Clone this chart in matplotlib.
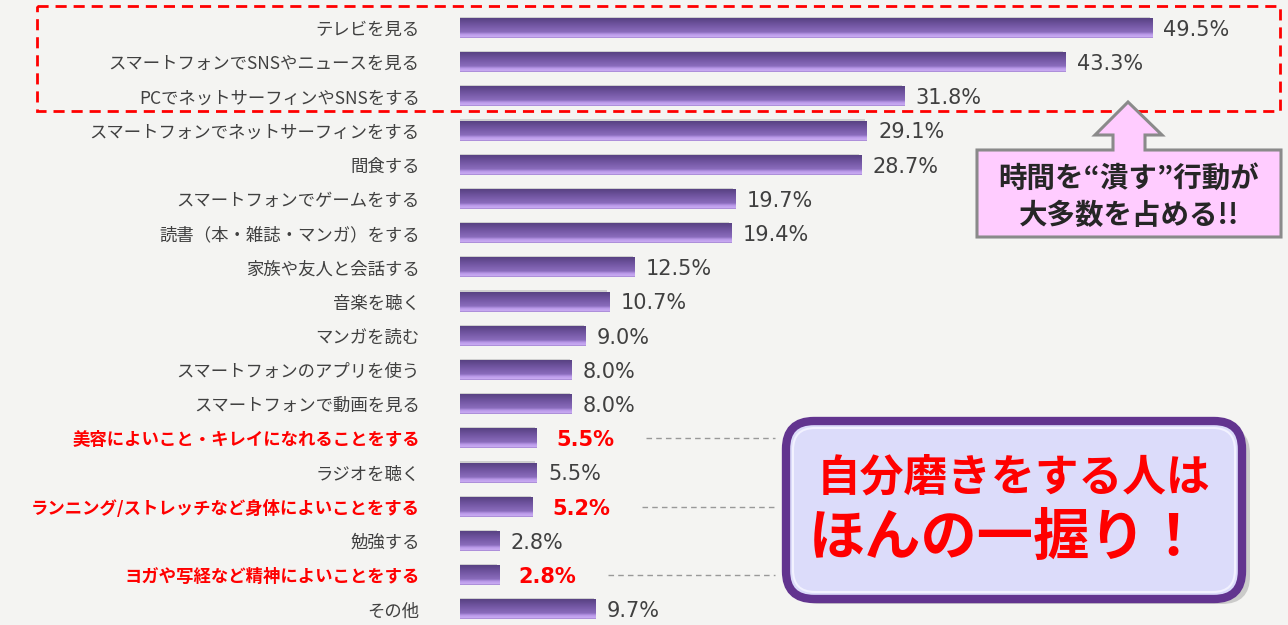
import matplotlib
matplotlib.use("Agg")
import matplotlib.pyplot as plt
import numpy as np
from matplotlib.colors import LinearSegmentedColormap
from matplotlib.patches import Rectangle, Polygon, FancyBboxPatch

plt.rcParams['font.family'] = ['Noto Sans CJK JP', 'DejaVu Sans']

# data
labels = [
    "テレビを見る",
    "スマートフォンでSNSやニュースを見る",
    "PCでネットサーフィンやSNSをする",
    "スマートフォンでネットサーフィンをする",
    "間食する",
    "スマートフォンでゲームをする",
    "読書（本・雑誌・マンガ）をする",
    "家族や友人と会話する",
    "音楽を聴く",
    "マンガを読む",
    "スマートフォンのアプリを使う",
    "スマートフォンで動画を見る",
    "美容によいこと・キレイになれることをする",
    "ラジオを聴く",
    "ランニング/ストレッチなど身体によいことをする",
    "勉強する",
    "ヨガや写経など精神によいことをする",
    "その他",
]
values = [49.5, 43.3, 31.8, 29.1, 28.7, 19.7, 19.4, 12.5, 10.7, 9.0, 8.0, 8.0,
          5.5, 5.5, 5.2, 2.8, 2.8, 9.7]
highlight = [False] * 12 + [True, False, True, False, True, False]

top_note = ["時間を“潰す”行動が", "大多数を占める!!"]
box_note = ["自分磨きをする人は", "ほんの一握り！"]

BG = "#f4f4f2"
W, H = 1288, 625
fig = plt.figure(figsize=(W / 100, H / 100), dpi=100, facecolor=BG)

# main bar axes: x from pixel 460 to right edge, rows spaced ~34.2 px
px_per_unit = 13.98
row_px, row0_px = 34.2, 28
ax = fig.add_axes([460 / W, 0, 1 - 460 / W, 1])
ax.set_facecolor("none")
ax.set_xlim(0, (W - 460) / px_per_unit)
ax.set_ylim((H - row0_px) / row_px, -row0_px / row_px)
for s in ax.spines.values():
    s.set_visible(False)
ax.set_xticks([])

y = np.arange(len(values))
bh = 0.58
# soft shadow behind bars
ax.barh(y - 0.04, values, height=bh, left=-0.15, color="#cfcfcf", zorder=1)
bars = ax.barh(y, values, height=bh, color="#7658a8", zorder=2)

grad = LinearSegmentedColormap.from_list(
    "barpurple", [(0, "#584283"), (0.35, "#7256a2"), (0.7, "#8a6cbc"),
                  (0.82, "#b898e8"), (0.95, "#cbadf4"), (1, "#9c7ecb")])
g = np.linspace(0, 1, 64).reshape(-1, 1)
for b in bars:
    x0, y0 = b.get_x(), b.get_y()
    im = ax.imshow(g, cmap=grad, aspect="auto", zorder=3,
                   extent=(x0, x0 + b.get_width(), y0 + b.get_height(), y0))
    im.set_clip_path(b)

ax.set_yticks(y)
ax.set_yticklabels(labels, fontsize=12.5)
ax.tick_params(axis="y", length=0, pad=29)
for t, hl in zip(ax.get_yticklabels(), highlight):
    t.set_color("#ff0000" if hl else "#404040")
    if hl:
        t.set_fontweight("bold")

for yi, v, hl in zip(y, values, highlight):
    ax.text(v + (1.4 if hl else 0.8), yi + 0.05, f"{v:.1f}%", va="center", ha="left",
            fontsize=15, family=["DejaVu Sans"],
            color="#ff0000" if hl else "#404040",
            fontweight="bold" if hl else "normal", zorder=4)
    if hl:
        ax.plot([v + 7.8, 22.5], [yi, yi], ls=(0, (4, 3)), color="#999999",
                lw=1.0, zorder=1)

# overlay in pixel coordinates for the callouts
ov = fig.add_axes([0, 0, 1, 1])
ov.set_xlim(0, W)
ov.set_ylim(H, 0)
ov.axis("off")
ov.patch.set_alpha(0)

ov.add_patch(Rectangle((37, 6), 1243, 105, fill=False, ec="#ff0000", lw=2,
                       ls=(0, (4, 2.5)), zorder=5))

arrow = [(1128, 102), (1162, 135), (1145, 135), (1145, 150), (1281, 150),
         (1281, 237), (977, 237), (977, 150), (1113, 150), (1113, 135), (1095, 135)]
ov.add_patch(Polygon(arrow, closed=True, fc="#ffccff", ec="#8a8a8a", lw=2.2, zorder=6))
ov.text(1129, 179, top_note[0], ha="center", va="center", fontsize=20.5,
        fontweight="bold", color="#262626", zorder=7)
ov.text(1129, 216, top_note[1], ha="center", va="center", fontsize=20.5,
        fontweight="bold", color="#262626", zorder=7)

# big lavender box with purple frame
ov.add_patch(FancyBboxPatch((792, 426), 458, 178, boxstyle="round,pad=0,rounding_size=28",
                            fc="#b0b0b0", ec="none", alpha=0.6, zorder=6))
ov.add_patch(FancyBboxPatch((786, 421), 456, 178, boxstyle="round,pad=0,rounding_size=28",
                            fc="#dcdcfa", ec="#62348f", lw=6, zorder=7))
ov.add_patch(FancyBboxPatch((793, 428), 442, 164, boxstyle="round,pad=0,rounding_size=22",
                            fc="none", ec="#f2f2ff", lw=1.5, zorder=7))
ov.text(1014, 478, box_note[0], ha="center", va="center", fontsize=31.5,
        fontweight="bold", color="#ff0000", zorder=8)
ov.text(1006, 538, box_note[1], ha="center", va="center", fontsize=40.5,
        fontweight="bold", color="#ff0000", zorder=8)

fig.savefig("out.png", dpi=100, facecolor=BG)
